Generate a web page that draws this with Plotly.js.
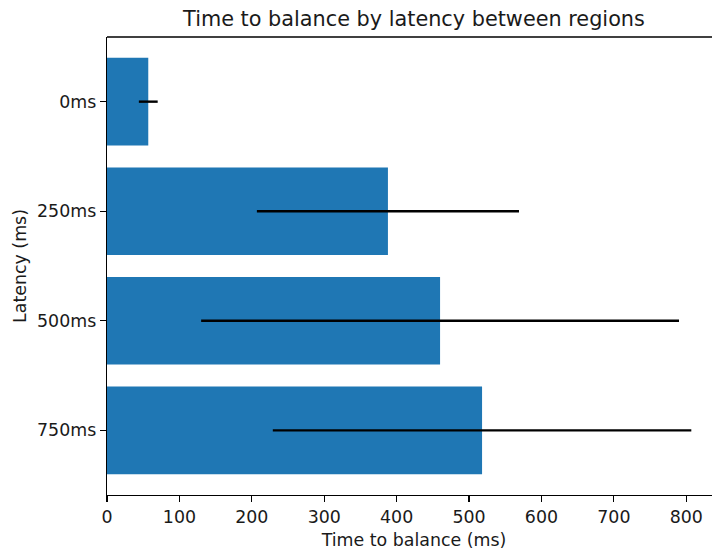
<!DOCTYPE html>
<html>
<head>
<meta charset="utf-8">
<script src="https://cdn.plot.ly/plotly-3.0.1.min.js"></script>
<style>
html, body { margin: 0; padding: 0; overflow: hidden; background: #fff; width: 712px; height: 551px; }
#chart { width: 722px; height: 551px; }
</style>
</head>
<body>
<div id="chart"></div>
<script>
const latencies = ["0ms", "250ms", "500ms", "750ms"];
const balanceTimes = [57, 388, 460, 518];
const balanceErrors = [13, 181, 330, 289];
const xTicks = [0, 100, 200, 300, 400, 500, 600, 700, 800];

const font = "DejaVu Sans, sans-serif";
const tickSize = 17.4;
const titleSize = 20.8;
const textColor = "#1a1a1a";

const trace = {
  type: "bar",
  orientation: "h",
  y: latencies,
  x: balanceTimes,
  width: 0.8,
  marker: { color: "#1f77b4", line: { width: 0 } },
  error_x: {
    type: "data",
    array: balanceErrors,
    visible: true,
    color: "#000000",
    thickness: 2.4,
    width: 0
  },
  hoverinfo: "x+y"
};

const layout = {
  width: 722,
  height: 551,
  margin: { l: 107, r: 1, t: 37, b: 56 },
  paper_bgcolor: "#ffffff",
  plot_bgcolor: "#ffffff",
  font: { family: font, size: tickSize, color: textColor },
  showlegend: false,
  title: {
    text: "Time to balance by latency between regions",
    font: { family: font, size: titleSize, color: textColor },
    x: 0.5,
    xref: "paper",
    xanchor: "center",
    y: 1,
    yref: "paper",
    yanchor: "bottom",
    pad: { b: 11 }
  },
  xaxis: {
    range: [0, 848],
    tickvals: xTicks,
    ticktext: xTicks.map(String),
    ticks: "outside",
    ticklen: 6,
    tickwidth: 1.3,
    tickcolor: "#000000",
    showline: true,
    linecolor: "#000000",
    linewidth: 1.3,
    mirror: false,
    showgrid: false,
    zeroline: false,
    tickfont: { family: font, size: tickSize, color: textColor },
    title: { text: "Time to balance (ms)", font: { family: font, size: tickSize, color: textColor }, standoff: 7 }
  },
  yaxis: {
    type: "category",
    range: [3.59, -0.59],
    ticks: "outside",
    ticklen: 6,
    tickwidth: 1.3,
    tickcolor: "#000000",
    showline: true,
    linecolor: "#000000",
    linewidth: 1.3,
    showgrid: false,
    zeroline: false,
    tickfont: { family: font, size: tickSize, color: textColor },
    title: { text: "Latency (ms)", font: { family: font, size: tickSize, color: textColor }, standoff: 6 }
  },
  shapes: [
    { type: "line", xref: "paper", yref: "paper", x0: 0, x1: 1, y0: 1, y1: 1, line: { color: "#000000", width: 1.3 } }
  ]
};

Plotly.newPlot("chart", [trace], layout, { displayModeBar: false, staticPlot: true });
</script>
</body>
</html>
